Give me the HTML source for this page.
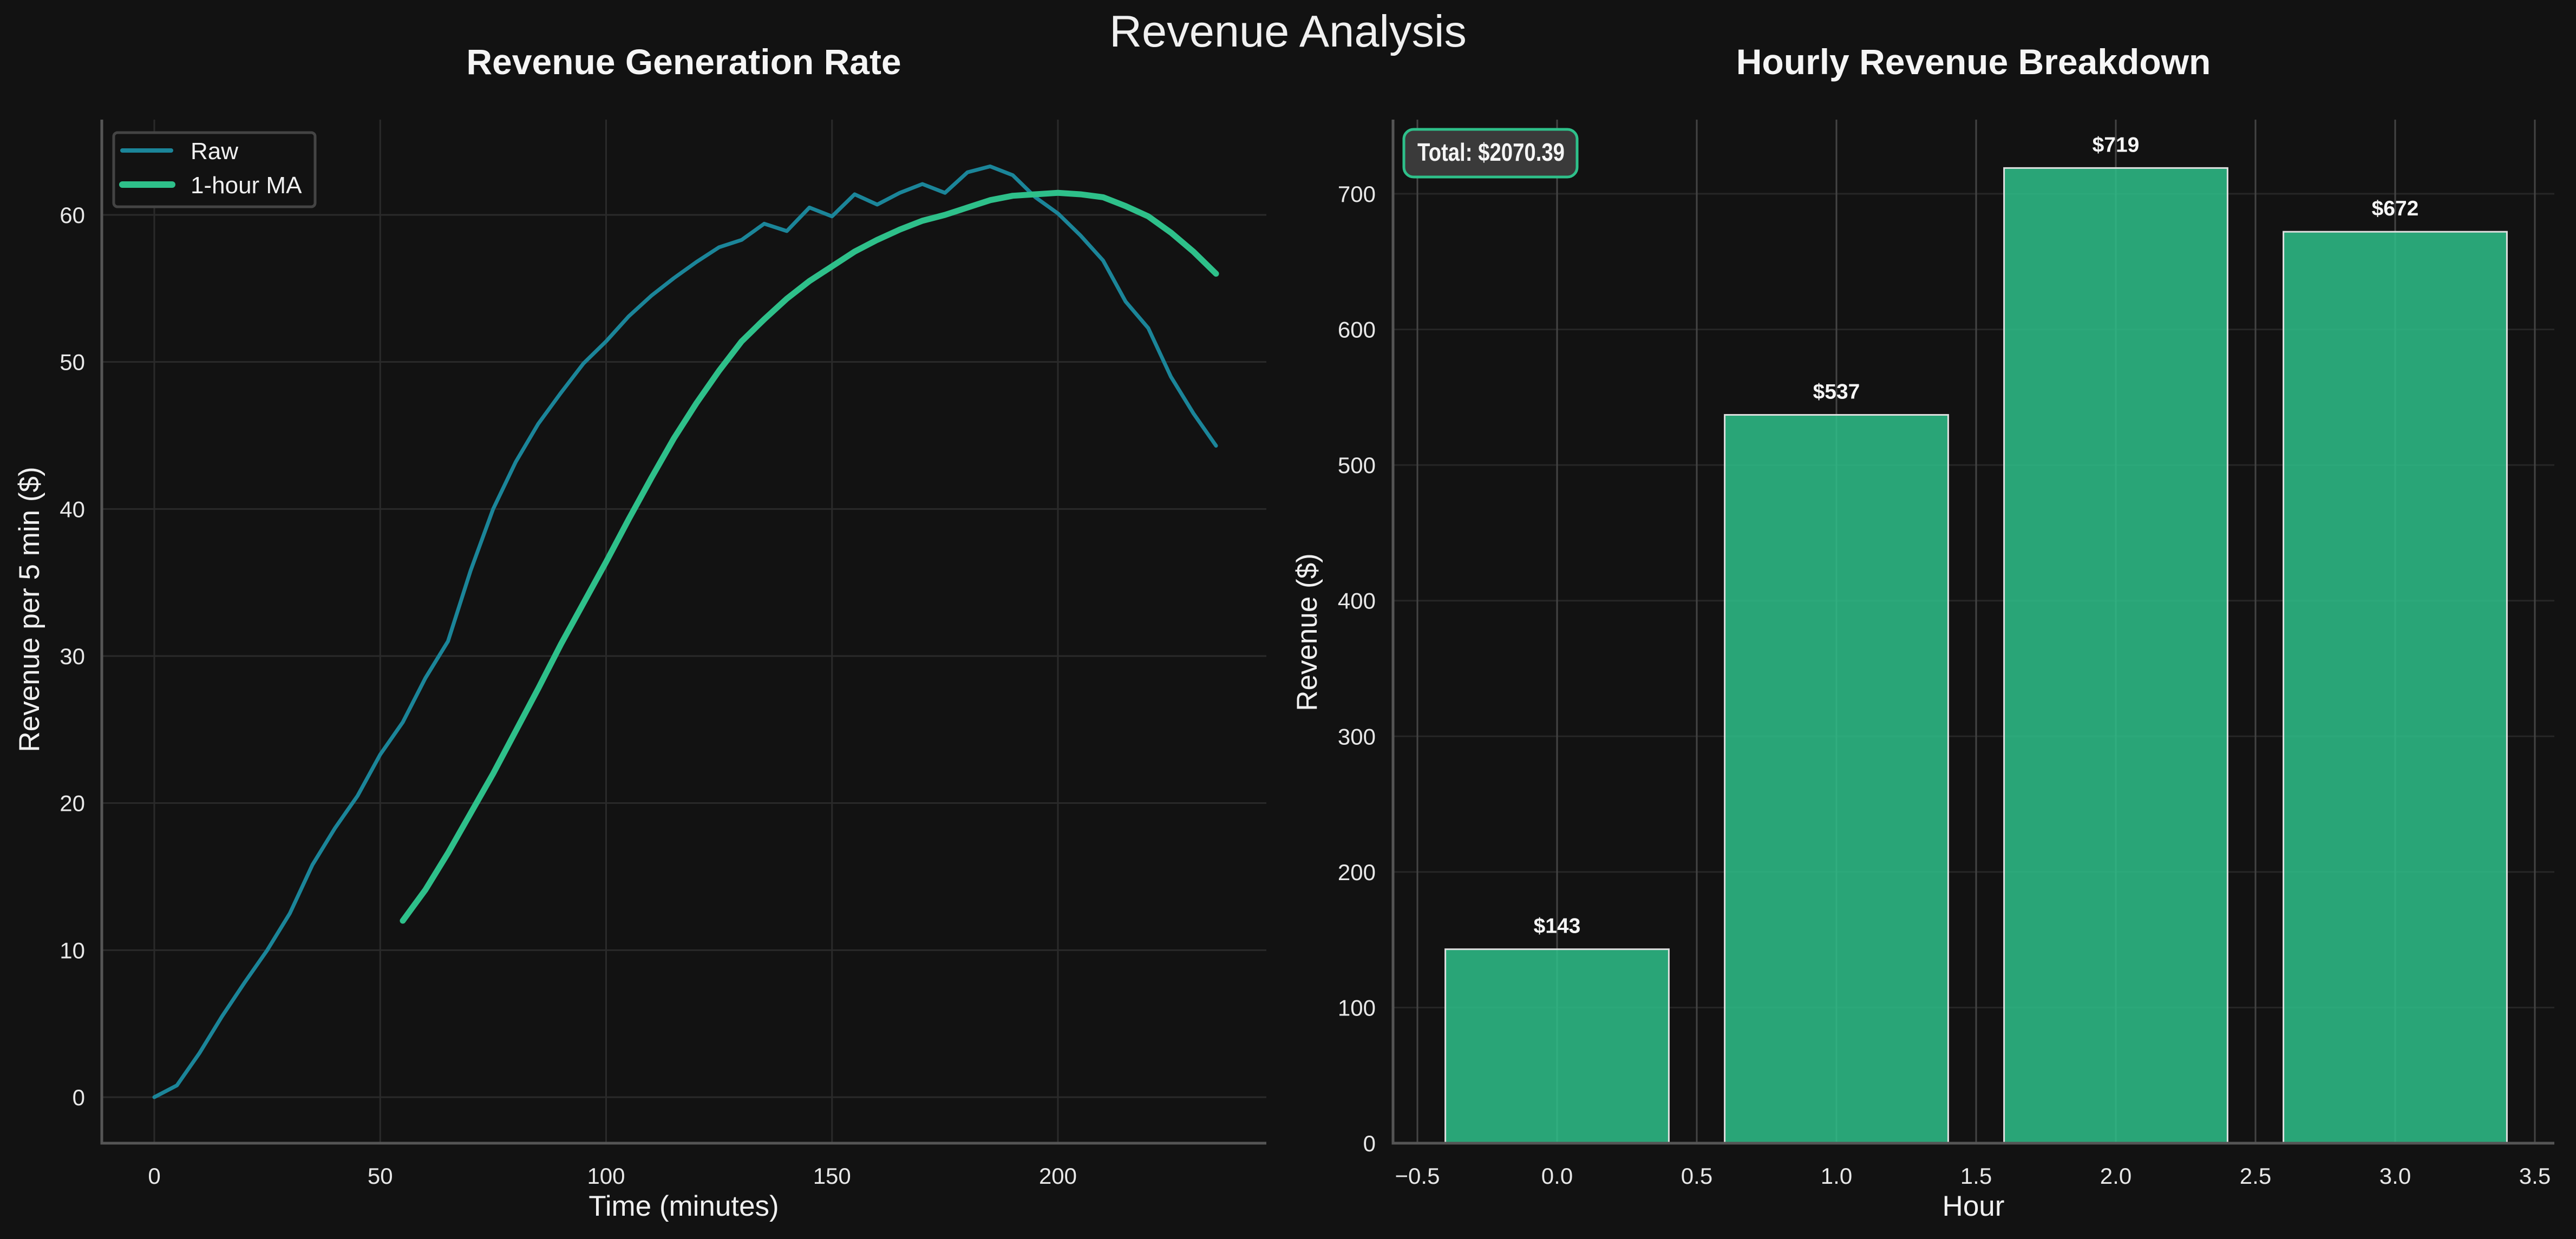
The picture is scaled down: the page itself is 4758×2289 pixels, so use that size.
<!DOCTYPE html>
<html><head><meta charset="utf-8"><style>
html,body{margin:0;padding:0;background:#121212;}
svg{display:block;}
text{font-family:"Liberation Sans",Arial,sans-serif;}
</style></head><body>
<svg id="chart" width="4758" height="2289" viewBox="0 0 4758 2289" xmlns="http://www.w3.org/2000/svg">
<rect width="4758" height="2289" fill="#121212"/>
<text x="2379" y="86" text-anchor="middle" font-size="83" fill="#f0f0f0">Revenue Analysis</text>
<text x="1263" y="137" text-anchor="middle" font-size="66" font-weight="bold" fill="#f5f5f5">Revenue Generation Rate</text>
<text x="3645" y="137" text-anchor="middle" font-size="66" font-weight="bold" fill="#f5f5f5">Hourly Revenue Breakdown</text>
<g id="left"></g>
<g id="right"></g>
</svg>
<script>
const times = [0,5,10,15,20,25,30,35,40,45,50,55,60,65,70,75,80,85,90,95,100,105,110,115,120,125,130,135,140,145,150,155,160,165,170,175,180,185,190,195,200,205,210,215,220,225,230,235];
const rawValues = [0,0.8,3.0,5.5,7.8,10.0,12.5,15.8,18.3,20.5,23.3,25.5,28.5,31.0,35.8,40.0,43.2,45.8,47.9,49.9,51.4,53.1,54.5,55.7,56.8,57.8,58.3,59.4,58.9,60.5,59.9,61.4,60.7,61.5,62.1,61.5,62.9,63.3,62.7,61.2,60.1,58.6,56.9,54.1,52.3,49.0,46.5,44.3];
const maTimes = [55,60,65,70,75,80,85,90,95,100,105,110,115,120,125,130,135,140,145,150,155,160,165,170,175,180,185,190,195,200,205,210,215,220,225,230,235];
const maValues = [12.0,14.1,16.6,19.3,22.0,24.9,27.8,30.8,33.6,36.4,39.3,42.1,44.8,47.2,49.4,51.4,52.9,54.3,55.5,56.5,57.5,58.3,59.0,59.6,60.0,60.5,61.0,61.3,61.4,61.5,61.4,61.2,60.6,59.9,58.8,57.5,56.0];
const leftXTicks = [0,50,100,150,200];
const leftYTicks = [0,10,20,30,40,50,60];
const hours = [0,1,2,3];
const hourlyRevenue = [143,537,719,672];
const barLabels = ["$143","$537","$719","$672"];
const rightXTicks = [-0.5,0,0.5,1,1.5,2,2.5,3,3.5];
const rightXTickLabels = ["\u22120.5","0.0","0.5","1.0","1.5","2.0","2.5","3.0","3.5"];
const rightYTicks = [0,100,200,300,400,500,600,700];
const totalText = "Total: $2070.39";

const NS="http://www.w3.org/2000/svg";
function mk(parent,tag,attrs,txt){const e=document.createElementNS(NS,tag);for(const k in attrs)e.setAttribute(k,attrs[k]);if(txt!==undefined)e.textContent=txt;parent.appendChild(e);return e;}

// LEFT
const L=document.getElementById('left');
const lx=v=>285+(v-0)*(1954-285)/200;
const ly=v=>2027-(v)*(2027-397)/60;
const LA={l:188,r:2339,t:221,b:2112};
leftXTicks.forEach(t=>{
 let g=mk(L,'line',{x1:lx(t),x2:lx(t),y1:LA.t,y2:LA.b,stroke:'#2a2a2a','stroke-width':3});
 
 
 let tx=mk(L,'text',{x:lx(t),y:2187,'text-anchor':'middle','font-size':42,fill:'#e8e8e8'},String(t));
 
 
});
leftYTicks.forEach(t=>{
 let g=mk(L,'line',{x1:LA.l,x2:LA.r,y1:ly(t),y2:ly(t),stroke:'#2a2a2a','stroke-width':3});
 
 
 let tx=mk(L,'text',{x:157,y:ly(t)+15,'text-anchor':'end','font-size':42,fill:'#e8e8e8'},String(t));
 
 
});
let sp=mk(L,'path',{d:`M${LA.l},${LA.t}V${LA.b}H${LA.r}`,fill:'none',stroke:'#555','stroke-width':5});


let rawLine=mk(L,'polyline',{points:times.map((t,i)=>lx(t)+','+ly(rawValues[i])).join(' '),fill:'none',stroke:'#1b8599','stroke-width':7,'stroke-linejoin':'round','stroke-linecap':'round'});


let maLine=mk(L,'polyline',{points:maTimes.map((t,i)=>lx(t)+','+ly(maValues[i])).join(' '),fill:'none',stroke:'#2ec08a','stroke-width':11,'stroke-linejoin':'round','stroke-linecap':'round'});


let xl=mk(L,'text',{x:1263,y:2246,'text-anchor':'middle','font-size':53,fill:'#f0f0f0'},'Time (minutes)');


let yl=mk(L,'text',{x:0,y:0,'text-anchor':'middle','font-size':53,fill:'#f0f0f0',transform:'translate(72,1126) rotate(-90)'},'Revenue per 5 min ($)');


let lg=mk(L,'g',{});


mk(lg,'rect',{x:210,y:245,width:372,height:137,rx:7,fill:'#121212',stroke:'#444','stroke-width':5});
mk(lg,'line',{x1:226,x2:316,y1:278,y2:278,stroke:'#1b8599','stroke-width':8,'stroke-linecap':'round'});
let le1=mk(lg,'text',{x:352,y:294,'font-size':44,fill:'#f0f0f0'},'Raw');


mk(lg,'line',{x1:226,x2:318,y1:341,y2:341,stroke:'#2ec08a','stroke-width':12,'stroke-linecap':'round'});
let le2=mk(lg,'text',{x:352,y:357,'font-size':44,fill:'#f0f0f0'},'1-hour MA');



// RIGHT
const R=document.getElementById('right');
const rx=v=>2876+v*516;
const ry=v=>2112-v*(2112-358)/700;
const RA={l:2573,r:4718,t:221,b:2112};
rightYTicks.forEach(t=>{
 let g=mk(R,'line',{x1:RA.l,x2:RA.r,y1:ry(t),y2:ry(t),stroke:'#262626','stroke-width':3});
 
 
 let tx=mk(R,'text',{x:2541,y:ry(t)+15,'text-anchor':'end','font-size':42,fill:'#e8e8e8'},String(t));
 
 
});
rightXTicks.forEach((t,i)=>{
 let g=mk(R,'line',{x1:rx(t),x2:rx(t),y1:RA.t,y2:RA.b,stroke:'#444','stroke-width':3});
 
 
 let tx=mk(R,'text',{x:rx(t),y:2187,'text-anchor':'middle','font-size':42,fill:'#e8e8e8'},rightXTickLabels[i]);
 
 
});
hours.forEach((h,i)=>{
 let b=mk(R,'rect',{x:rx(h-0.4),y:ry(hourlyRevenue[i]),width:rx(h+0.4)-rx(h-0.4),height:ry(0)-ry(hourlyRevenue[i]),fill:'#2ec08a','fill-opacity':0.85,stroke:'#e0e0e0','stroke-width':3});
 
 
 let t=mk(R,'text',{x:rx(h),y:ry(hourlyRevenue[i])-30,'text-anchor':'middle','font-size':39,'font-weight':'bold',fill:'#f5f5f5'},barLabels[i]);
 
 
});
let sp2=mk(R,'path',{d:`M${RA.l},${RA.t}V${RA.b}H${RA.r}`,fill:'none',stroke:'#555','stroke-width':5});


let tb=mk(R,'g',{});


mk(tb,'rect',{x:2593,y:239,width:320,height:88,rx:18,fill:'#3a3a3a',stroke:'#2ec08a','stroke-width':5});
mk(tb,'text',{x:2618,y:297,'font-size':46,'font-weight':'bold',fill:'#f5f5f5',textLength:272,lengthAdjust:'spacingAndGlyphs'},totalText);
let xl2=mk(R,'text',{x:3645,y:2246,'text-anchor':'middle','font-size':53,fill:'#f0f0f0'},'Hour');


let yl2=mk(R,'text',{x:0,y:0,'text-anchor':'middle','font-size':53,fill:'#f0f0f0',transform:'translate(2432,1168) rotate(-90)'},'Revenue ($)');


</script>
</body></html>
